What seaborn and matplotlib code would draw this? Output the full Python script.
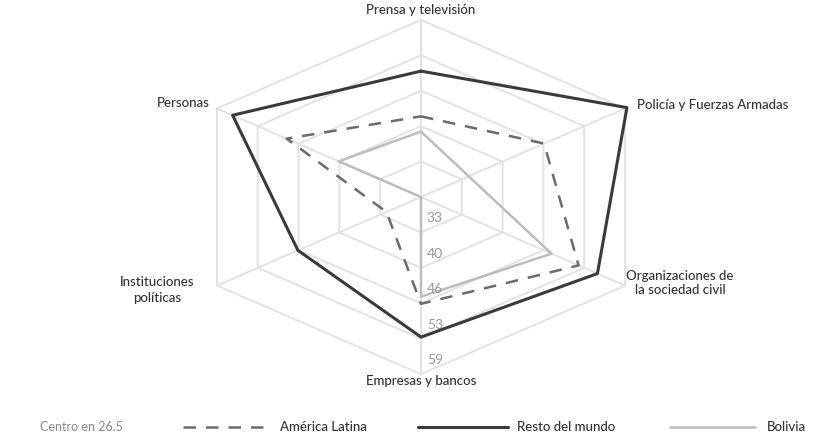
import numpy as np
import matplotlib
matplotlib.use('Agg')
import matplotlib.pyplot as plt
import seaborn as sns
from matplotlib.lines import Line2D

sns.set_style('white')
plt.rcParams['font.family'] = ['Lato', 'DejaVu Sans']

categories = ['Prensa y televisión', 'Policía y Fuerzas Armadas', 'Organizaciones de\nla sociedad civil',
              'Empresas y bancos', 'Instituciones\npolíticas', 'Personas']
america_latina = [41.3, 46.1, 51.6, 46.1, 32.0, 47.9]
resto_mundo = [49.6, 59.3, 54.6, 52.2, 46.1, 56.5]
bolivia = [38.5, 34.1, 47.3, 44.8, 26.5, 39.6]
ring_levels = [33, 39.5, 46, 52.5, 59]
ring_labels = ['33', '40', '46', '53', '59']
center = 26.5

angles = np.deg2rad([90, 30, -30, -90, -150, 150])

def xy(vals):
    r = np.asarray(vals) - center
    x = r * np.cos(angles)
    y = r * np.sin(angles)
    return np.append(x, x[0]), np.append(y, y[0])

fig = plt.figure(figsize=(8.36, 4.4), dpi=100)
ax = fig.add_axes([0, 0, 1, 1])
ax.set_xlim(-421 / 7.25, 415 / 7.25)
ax.set_ylim(-243 / 5.45, 197 / 5.45)
ax.axis('off')

grid_c = '#e2e2e2'
for lv in ring_levels:
    gx, gy = xy([lv] * 6)
    ax.plot(gx, gy, color=grid_c, lw=1.4, zorder=1)
for a in angles:
    r = ring_levels[-1] - center
    ax.plot([0, r * np.cos(a)], [0, r * np.sin(a)], color=grid_c, lw=1.4, zorder=1)

for lv, lab in zip(ring_levels, ring_labels):
    ax.text(0.8, -(lv - center) + 2.6, lab, color='#999999', fontsize=10, va='center', ha='left')

x, y = xy(bolivia)
ax.plot(x, y, color='#bdbdbd', lw=1.8, zorder=2)
x, y = xy(america_latina)
ax.plot(x, y, color='#6b6b6b', lw=1.8, ls=(0, (5, 4)), zorder=3)
x, y = xy(resto_mundo)
ax.plot(x, y, color='#3a3a3a', lw=2.2, zorder=4)

txt = dict(fontsize=9.5, color='#333333', fontweight='medium')
fig.text(421 / 836, 1 - 10 / 440, categories[0], ha='center', va='center', **txt)
fig.text(637 / 836, 1 - 105 / 440, categories[1], ha='left', va='center', **txt)
fig.text(680 / 836, 1 - 283 / 440, categories[2], ha='center', va='center', linespacing=1.3, **txt)
fig.text(421 / 836, 1 - 381 / 440, categories[3], ha='center', va='center', **txt)
fig.text(157 / 836, 1 - 290 / 440, categories[4], ha='center', va='center', linespacing=1.3, **txt)
fig.text(210 / 836, 1 - 103 / 440, categories[5], ha='right', va='center', **txt)

ly = 1 - 427 / 440
fig.text(40 / 836, ly, 'Centro en 26.5', ha='left', va='center', fontsize=9, color='#888888')
fig.add_artist(Line2D([183 / 836, 270 / 836], [ly, ly], color='#6b6b6b', lw=1.8, ls=(0, (5, 4))))
fig.text(280 / 836, ly, 'América Latina', ha='left', va='center', **txt)
fig.add_artist(Line2D([418 / 836, 508 / 836], [ly, ly], color='#3a3a3a', lw=2.2))
fig.text(517 / 836, ly, 'Resto del mundo', ha='left', va='center', **txt)
fig.add_artist(Line2D([670 / 836, 755 / 836], [ly, ly], color='#bdbdbd', lw=1.8))
fig.text(767 / 836, ly, 'Bolivia', ha='left', va='center', **txt)

fig.savefig('out.png', dpi=100)
